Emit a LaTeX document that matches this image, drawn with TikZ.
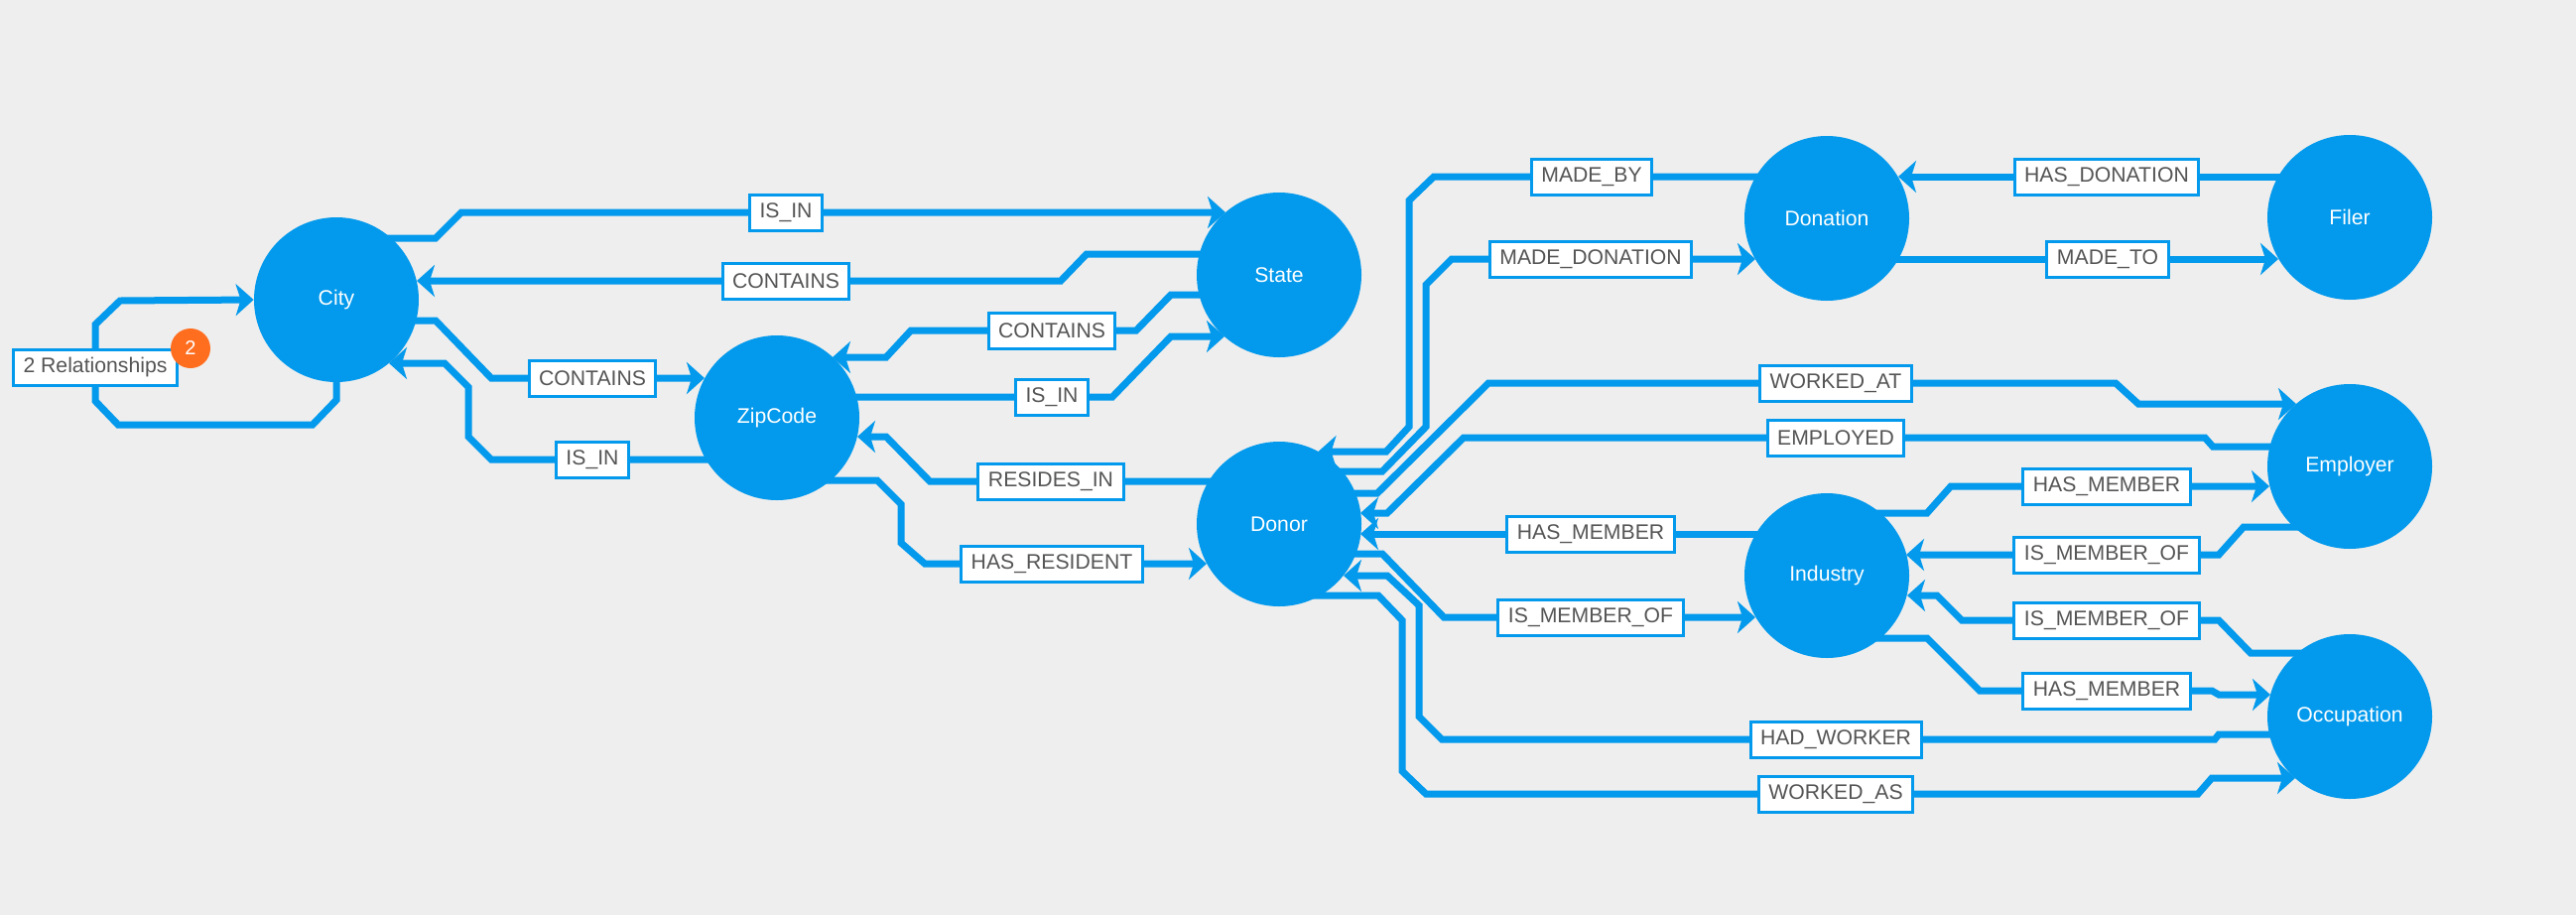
\documentclass[tikz,border=0pt]{standalone}
\usepackage{fontspec}
\setmainfont{Liberation Sans}
\usepackage{tikz}
\usetikzlibrary{arrows.meta, calc}
\definecolor{GraphBlue}{HTML}{0399EC}
\definecolor{PageGray}{HTML}{EEEEEE}
\definecolor{LabelInk}{HTML}{555555}
\definecolor{BadgeOrange}{HTML}{FF6D1F}
\tikzset{
  entity/.style={circle, fill=GraphBlue, minimum size=83pt, inner sep=0pt,
                 text=white, font=\fontsize{10.6}{12}\selectfont},
  rel/.style={draw=GraphBlue, line width=3.5pt, shorten <=-6pt},
  reltip/.style={-{Stealth[length=9pt, width=16pt, inset=2.5pt]}},
  rellabel/.style={draw=GraphBlue, fill=white, line width=1.5pt, text=LabelInk,
                   inner xsep=5pt, inner ysep=0pt, minimum height=18pt,
                   font=\fontsize{10.6}{12}\selectfont},
  badge/.style={circle, fill=BadgeOrange, minimum size=20pt, inner sep=0pt,
                text=white, font=\fontsize{10}{12}\selectfont}
}

\begin{document}
\begin{tikzpicture}[x=0.5pt, y=-0.5pt]
\useasboundingbox (0,0) rectangle (2596,922);
\fill[PageGray] (0,0) rectangle (2596,922);

\node[entity] (city) at (339,302) {City};
\node[entity] (state) at (1289,277) {State};
\node[entity] (zip) at (783,421) {ZipCode};
\node[entity] (donor) at (1289,528) {Donor};
\node[entity] (donation) at (1841,220) {Donation};
\node[entity] (filer) at (2368,219) {Filer};
\node[entity] (employer) at (2368,470) {Employer};
\node[entity] (industry) at (1841,580) {Industry};
\node[entity] (occupation) at (2368,722) {Occupation};

% place relationships
\draw[rel, reltip] ($(city)+(55,-62)$) -- (439,240) -- (465,214) -- (792,214) node[rellabel] (cityInState) {IS\_IN} -- ($(state)+(-54,-63)$);
\draw[rel, reltip] ($(state)+(-80,-21)$) -- (1095,256) -- (1069,283) -- (792,283) node[rellabel] (stateHasCity) {CONTAINS} -- ($(city)+(81,-19)$);
\draw[rel, reltip] ($(city)+(80,21)$) -- (439,323) -- (495,381) -- (597,381) node[rellabel] (cityHasZip) {CONTAINS} -- ($(zip)+(-73,-40)$);
\draw[rel, reltip] ($(zip)+(-72,42)$) -- (597,463) node[rellabel] (zipInCity) {IS\_IN} -- (495,463) -- (472,440) -- (472,390) -- (448,366) -- ($(city)+(53,64)$);
\draw[rel, reltip] (city.south) -- (339,403) -- (315,428) -- (119,428) -- (96,404) -- (96,370) node[rellabel] (cityLoop) {2 Relationships} -- (96,327) -- (121,303) -- (city.west);
\node[badge] (loopBadge) at (192,351) {2};
\draw[rel, reltip] ($(state)+(-81,20)$) -- (1180,297) -- (1145,333) -- (1060,333) node[rellabel] (stateHasZip) {CONTAINS} -- (918,333) -- (893,360) -- ($(zip)+(56,-61)$);
\draw[rel, reltip] ($(zip)+(80,-21)$) -- (1060,400) node[rellabel] (zipInState) {IS\_IN} -- (1121,400) -- (1180,339) -- ($(state)+(-55,62)$);
\draw[rel, reltip] ($(donor)+(-71,-43)$) -- (1059,485) node[rellabel] (donorInZip) {RESIDES\_IN} -- (937,485) -- (893,440) -- ($(zip)+(81,19)$);
\draw[rel, reltip] ($(zip)+(54,63)$) -- (884,484) -- (908,508) -- (908,547) -- (932,568) -- (1060,568) node[rellabel] (zipHasDonor) {HAS\_RESIDENT} -- ($(donor)+(-73,40)$);

% donation relationships
\draw[rel, reltip] ($(donation)+(-72,-42)$) -- (1604,178) node[rellabel] (donationBy) {MADE\_BY} -- (1445,178) -- (1420,202) -- (1420,430) -- (1397,455) -- ($(donor)+(39.5,-73)$);
\draw[rel, reltip] ($(donor)+(64,-53)$) -- (1393,475) -- (1437,430) -- (1437,287) -- (1463,261) -- (1603,261) node[rellabel] (donorMade) {MADE\_DONATION} -- ($(donation)+(-72,41)$);
\draw[rel, reltip] ($(filer)+(-72,-41)$) -- (2123,178) node[rellabel] (filerHas) {HAS\_DONATION} -- ($(donation)+(72,-42)$);
\draw[rel, reltip] ($(donation)+(72,41)$) -- (2124,261) node[rellabel] (donationTo) {MADE\_TO} -- ($(filer)+(-72,42)$);

% work relationships
\draw[rel, reltip] ($(donor)+(77,-31)$) -- (1388,497) -- (1500,386) -- (1850,386) node[rellabel] (donorWorkedAt) {WORKED\_AT} -- (2132,386) -- (2155,407) -- ($(employer)+(-54,-63)$);
\draw[rel, reltip] ($(employer)+(-81,-20)$) -- (2230,450) -- (2222,441) -- (1850,441) node[rellabel] (employerHired) {EMPLOYED} -- (1475,441) -- (1398,517) -- ($(donor)+(82,-11)$);
\draw[rel, reltip] ($(industry)+(-72,-42)$) -- (1603,538) node[rellabel] (industryHasDonor) {HAS\_MEMBER} -- ($(donor)+(82,10)$);
\draw[rel, reltip] ($(donor)+(77,30)$) -- (1393,558) -- (1455,622) -- (1603,622) node[rellabel] (donorOfIndustry) {IS\_MEMBER\_OF} -- ($(industry)+(-72,42)$);
\draw[rel, reltip] ($(occupation)+(-81,18)$) -- (2236,740) -- (2232,745) -- (1850,745) node[rellabel] (occupationHad) {HAD\_WORKER} -- (1453,745) -- (1430,722) -- (1430,610) -- (1398,580) -- ($(donor)+(65,52)$);
\draw[rel, reltip] ($(donor)+(41,72)$) -- (1389,600) -- (1413,625) -- (1413,777) -- (1437,800) -- (1850,800) node[rellabel] (donorWorkedAs) {WORKED\_AS} -- (2215,800) -- (2229,784) -- ($(occupation)+(-55,62)$);
\draw[rel, reltip] ($(industry)+(54,-63)$) -- (1942,517) -- (1966,490) -- (2123,490) node[rellabel] (industryHasEmp) {HAS\_MEMBER} -- ($(employer)+(-81,20)$);
\draw[rel, reltip] ($(employer)+(-56,61)$) -- (2261,531) -- (2236,559) -- (2123,559) node[rellabel] (employerOf) {IS\_MEMBER\_OF} -- ($(industry)+(80,-21)$);
\draw[rel, reltip] ($(occupation)+(-53,-64)$) -- (2268,658) -- (2236,625) -- (2123,625) node[rellabel] (occupationOf) {IS\_MEMBER\_OF} -- (1977,625) -- (1952,600) -- ($(industry)+(81,20)$);
\draw[rel, reltip] ($(industry)+(54,63)$) -- (1942,643) -- (1995,696) -- (2123,696) node[rellabel] (industryHasOcc) {HAS\_MEMBER} -- (2229,696) -- (2236,700) -- ($(occupation)+(-80,-22)$);
\end{tikzpicture}
\end{document}
